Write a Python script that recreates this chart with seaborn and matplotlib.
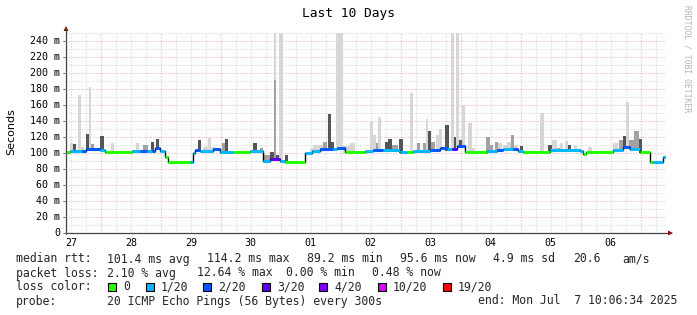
import numpy as np
import pandas as pd
import matplotlib
matplotlib.use("Agg")
import matplotlib.pyplot as plt
import seaborn as sns
from matplotlib.patches import Polygon, Rectangle
from matplotlib.lines import Line2D

# ---------------- data (time in hours since Jun 27 10:06:34) ----------------
END_H = 240.0

seg_start = [0, 1.6, 6.3, 8, 13.6, 15.6, 26.3, 29.6, 32.3, 34.3, 35.6, 37.6, 39.6, 40.8,
             49.6, 50.9, 51.6, 53.6, 58.9, 61.6, 66.9, 73.6, 78.9, 81.6, 85.6, 87.6,
             95.6, 98.3, 101.6, 106.9, 108.3, 111.6, 119.6, 122.8, 126.8, 133.6, 136.4,
             138.8, 145.6, 149.6, 152.4, 154.4, 156.4, 159.6, 168.4, 172.4, 174.8, 178.8,
             180.8, 182.8, 193.6, 205.6, 206.8, 208, 218.8, 222.8, 225.6, 229.6, 233.6,
             234.8, 238.8]
seg_ms = [101.7, 103, 103, 104.6, 104, 100.8, 102.5, 102.5, 102.5, 102.5, 106, 103, 94.6, 89.2,
          89.2, 99.6, 103.8, 103, 105, 101.7, 101, 103, 90, 92, 90, 89.2,
          99.6, 103, 105, 105, 106, 101.7, 103, 104, 104, 101, 101,
          103, 104, 106, 104.6, 105, 108.8, 101.7, 103, 104, 104.5, 104.5,
          103, 101.3, 104, 103, 98.3, 101.3, 104, 107, 105, 101.3, 89.2,
          89.2, 95.6]
seg_loss = [0, 1, 2, 2, 1, 0, 1, 2, 1, 2, 2, 1, 0, 0,
            1, 1, 2, 1, 2, 1, 0, 1, 1, 3, 1, 0,
            1, 1, 2, 1, 2, 0, 1, 2, 1, 1, 0,
            1, 2, 2, 1, 3, 2, 0, 1, 2, 1, 2,
            1, 0, 1, 1, 0, 0, 1, 2, 1, 0, 0,
            1, 1]

smoke_t = [1.6, 2.8, 4.8, 6.0, 8.0, 9.2, 10.0, 13.6, 18.0, 28.0, 30.8, 34.0, 36.0, 52.8,
           54.8, 56.8, 62.4, 63.6, 74.8, 77.6, 79.2, 81.6, 83.2, 83.2, 84.0, 85.2, 87.6,
           97.6, 98.8, 102.8, 104.8, 106.0, 108.0, 110.8, 113.6, 121.6, 122.8, 124.0,
           124.8, 127.6, 128.8, 130.4, 133.2, 137.6, 140.4, 142.8, 144.0, 144.8, 146.0,
           148.0, 149.2, 151.6, 154.0, 155.2, 156.0, 157.2, 158.4, 160.8, 162.4, 168.0,
           169.6, 171.6, 172.8, 174.8, 176.4, 178.0, 179.2, 181.6, 189.6, 192.8, 194.4,
           196.4, 197.6, 199.6, 200.8, 203.2, 208.8, 218.8, 221.2, 222.8, 224.0, 225.2,
           227.2, 229.2]
smoke_w = [1.2, 1.2, 1.2, 1.2, 1.2, 0.8, 1.2, 1.6, 1.2, 1.2, 2.0, 1.2, 1.2, 1.2,
           4.8, 1.2, 2.0, 1.2, 1.6, 1.2, 2.4, 1.6, 0.8, 0.8, 1.2, 1.6, 1.2,
           1.2, 4.0, 1.6, 1.2, 1.2, 2.8, 2.8, 2.0, 1.2, 1.2, 0.8,
           1.2, 1.2, 1.6, 2.4, 1.6, 1.2, 1.2, 1.2, 0.8, 1.2, 1.6,
           1.2, 1.2, 1.6, 1.2, 0.8, 1.2, 1.2, 1.2, 1.6, 1.2, 1.6,
           1.2, 1.2, 1.6, 1.6, 1.6, 1.2, 1.6, 1.2, 1.6, 1.6, 2.0,
           1.2, 1.2, 1.2, 1.2, 1.2, 1.6, 2.0, 1.6, 1.2, 1.2, 2.0,
           2.0, 1.2]
smoke_top = [112, 111, 172, 108, 124, 183, 111, 121, 112, 113, 110, 114, 118, 116,
             107, 119, 113, 117, 113, 106, 97, 101, 255, 191, 97, 255, 97,
             106, 110, 114, 149, 114, 255, 109, 112, 140, 122, 113,
             145, 114, 118, 110, 118, 175, 113, 113, 143, 127, 114,
             122, 130, 135, 255, 120, 255, 116, 160, 138, 106, 120,
             110, 114, 112, 110, 114, 122, 110, 109, 150, 110, 116,
             106, 112, 115, 110, 110, 107, 112, 116, 121, 164, 116,
             128, 118]
smoke_shade = ["L", "D", "L", "L", "D", "L", "M", "D", "L", "L", "M", "D", "D", "D",
               "L", "L", "M", "D", "D", "M", "M", "D", "L", "M", "D", "L", "D",
               "L", "L", "M", "D", "D", "L", "L", "L", "L", "L", "M",
               "L", "D", "D", "M", "D", "L", "M", "M", "L", "D", "M",
               "L", "L", "D", "L", "D", "L", "D", "L", "L", "L", "M",
               "M", "M", "L", "L", "L", "M", "L", "D", "L", "D", "L",
               "M", "L", "L", "D", "L", "L", "L", "M", "D", "L", "M",
               "M", "D"]

day_labels = ["27", "28", "29", "30", "01", "02", "03", "04", "05", "06"]
first_noon_h = 1.9
first_midnight_h = 13.9
y_ticks = [0, 20, 40, 60, 80, 100, 120, 140, 160, 180, 200, 220, 240]

loss_labels = ["0", "1/20", "2/20", "3/20", "4/20", "10/20", "19/20"]
loss_colors = ["#26ff00", "#00b8ff", "#0059ff", "#5e00ff", "#7e00ff", "#dd00ff", "#ff0000"]

rtt_items = ["101.4 ms avg", "114.2 ms max", "89.2 ms min", "95.6 ms now", "4.9 ms sd", "20.6", "am/s"]
loss_items = ["2.10 % avg", "12.64 % max", "0.00 % min", "0.48 % now"]
probe_text = "20 ICMP Echo Pings (56 Bytes) every 300s"
end_text = "end: Mon Jul  7 10:06:34 2025"

# ---------------- figure ----------------
sns.set_style("white")
plt.rcParams["font.family"] = ["DejaVu Sans Mono", "DejaVu Sans"]

W, H = 697, 315
fig = plt.figure(figsize=(W / 100, H / 100), dpi=100)
fig.patch.set_facecolor("white")

X0, X1, Y0, Y1 = 66, 666, 233, 33


def fx(x):
    return x / W


def fy(y):
    return 1 - y / H


ax = fig.add_axes([fx(X0), fy(Y0), (X1 - X0) / W, (Y0 - Y1) / H])
ax.set_xlim(0, END_H)
ax.set_ylim(0, 250)
for s in ax.spines.values():
    s.set_visible(False)
ax.set_xticks([])
ax.set_yticks([])
ax.set_facecolor("white")

dot = (0, (1, 2))
# horizontal grid
for v in range(10, 251, 10):
    col = "#e9a3a3" if v % 20 == 0 else "#cfcfcf"
    ax.axhline(v, color=col, lw=0.72, ls=dot, zorder=1)
# vertical grid
h = first_midnight_h - 12
while h < END_H:
    is_major = abs(((h - first_midnight_h) / 24) - round((h - first_midnight_h) / 24)) < 1e-6
    col = "#e9a3a3" if is_major else "#cfcfcf"
    ax.axvline(h, color=col, lw=0.72, ls=dot, zorder=1)
    h += 6

# median step function helper
starts = np.array(seg_start, dtype=float)
ends = np.append(starts[1:], END_H)
meds = np.array(seg_ms, dtype=float)


def median_at(t):
    i = np.searchsorted(starts, t, side="right") - 1
    return meds[max(i, 0)]


shade_colors = {"L": "#d6d6d6", "M": "#a2a2a2", "D": "#555555"}
order = {"L": 0, "M": 1, "D": 2}
for t, w, top, sh in sorted(zip(smoke_t, smoke_w, smoke_top, smoke_shade), key=lambda r: order[r[3]]):
    base = median_at(t + w / 2) - 1.5
    ax.bar(t, top - base, width=w, bottom=base, align="edge", color=shade_colors[sh],
           linewidth=0, zorder=2)

df = pd.DataFrame({"t": np.append(starts, END_H), "ms": np.append(meds, meds[-1])})
sns.lineplot(data=df, x="t", y="ms", drawstyle="steps-post", color="black", lw=1.0,
             ax=ax, zorder=3, legend=False)
for s, e, m, l in zip(starts, ends, meds, seg_loss):
    ax.hlines(m, s, e, colors=loss_colors[l], lw=2.2, zorder=4, capstyle="butt")
ax.set_xlabel("")
ax.set_ylabel("")
ax.set_xlim(0, END_H)
ax.set_ylim(0, 250)

# axes lines and arrows
fig.add_artist(Line2D([fx(X0), fx(X0)], [fy(Y0 + 1), fy(29)], color="#444444", lw=0.9))
fig.add_artist(Line2D([fx(X0), fx(669)], [fy(Y0), fy(Y0)], color="#444444", lw=0.9))
fig.add_artist(Polygon([[fx(63.5), fy(31)], [fx(68.5), fy(31)], [fx(66), fy(26)]],
                       closed=True, color="#8b0000", lw=0))
fig.add_artist(Polygon([[fx(668), fy(230.5)], [fx(668), fy(235.5)], [fx(673), fy(233)]],
                       closed=True, color="#8b0000", lw=0))

# y tick labels and ticks
for v in y_ticks:
    py = Y0 - v * (Y0 - Y1) / 250
    fig.text(fx(60), fy(py), "0" if v == 0 else f"{v} m", ha="right", va="center",
             fontsize=7.2, color="black")
    fig.add_artist(Line2D([fx(63), fx(66)], [fy(py), fy(py)], color="#777777", lw=0.7))

# x labels
for i, lab in enumerate(day_labels):
    hx = first_noon_h + 24 * i
    px = X0 + hx * (X1 - X0) / END_H
    fig.text(fx(px), fy(243), lab, ha="center", va="center", fontsize=7.2, color="black")

# title, y label, watermark
fig.text(fx(348), fy(13), "Last 10 Days", ha="center", va="center", fontsize=9.3, color="black")
fig.text(fx(11), fy(132), "Seconds", ha="center", va="center", rotation=90, fontsize=8,
         family="DejaVu Sans", color="black")
fig.text(fx(687), fy(59), "RRDTOOL / TOBI OETIKER", ha="center", va="center", rotation=270,
         fontsize=5.8, color="#b4b4b4")

# legend rows
LFS = 8.3
fig.text(fx(16), fy(259), "median rtt:", ha="left", va="center", fontsize=LFS)
for x, s in zip([107, 207, 307, 400, 493, 573, 622], rtt_items):
    fig.text(fx(x), fy(259), s, ha="left", va="center", fontsize=LFS)

fig.text(fx(16), fy(273), "packet loss:", ha="left", va="center", fontsize=LFS)
for x, s in zip([107, 197, 286, 372], loss_items):
    fig.text(fx(x), fy(273), s, ha="left", va="center", fontsize=LFS)

fig.text(fx(16), fy(287), "loss color:", ha="left", va="center", fontsize=LFS)
box_x = [108, 146, 203, 262, 319, 378, 443]
for bx, c, lab in zip(box_x, loss_colors, loss_labels):
    fig.add_artist(Rectangle((fx(bx), fy(291)), 8 / W, 8 / H, facecolor=c, edgecolor="black", lw=0.8))
    fig.text(fx(bx + 15), fy(287), lab, ha="left", va="center", fontsize=LFS)

fig.text(fx(16), fy(301), "probe:", ha="left", va="center", fontsize=LFS)
fig.text(fx(107), fy(301), probe_text, ha="left", va="center", fontsize=LFS)
fig.text(fx(478), fy(301), end_text, ha="left", va="center", fontsize=LFS)

fig.savefig("out.png", dpi=100, facecolor="white")
